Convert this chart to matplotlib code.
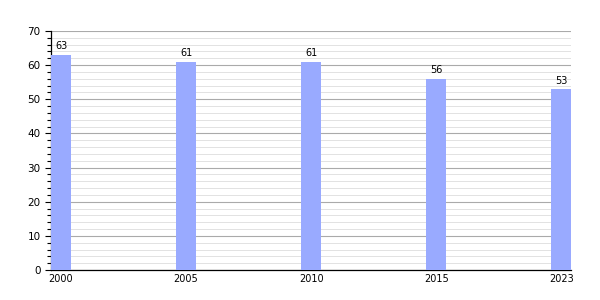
import matplotlib.pyplot as plt
from matplotlib.ticker import MultipleLocator

# Data
years = ['2000', '2005', '2010', '2015', '2023']
values = [63, 61, 61, 56, 53]

fig = plt.figure(figsize=(6, 3), dpi=100)
ax = fig.add_axes([0.085, 0.1, 0.867, 0.797])

x = range(len(years))
bars = ax.bar(x, values, width=0.16, color='#99aaff', zorder=3)
for b, v in zip(bars, values):
    ax.text(b.get_x() + b.get_width() / 2, v + 1, str(v),
            ha='center', va='bottom', fontsize=7, zorder=4)

ax.set_xlim(-0.08, len(years) - 1 + 0.08)
ax.set_ylim(0, 70)
ax.set_xticks(list(x))
ax.set_xticklabels(years, fontsize=7)
ax.yaxis.set_major_locator(MultipleLocator(10))
ax.yaxis.set_minor_locator(MultipleLocator(2))
ax.tick_params(axis='y', labelsize=7.5, length=4, width=0.8)
ax.tick_params(axis='y', which='minor', length=3, width=0.8)
ax.tick_params(axis='x', length=0, pad=3)

ax.grid(axis='y', which='major', color='#aaaaaa', linewidth=0.8, zorder=0)
ax.grid(axis='y', which='minor', color='#dddddd', linewidth=0.6, zorder=0)

for s in ['top', 'right']:
    ax.spines[s].set_visible(False)
ax.spines['left'].set_linewidth(0.9)
ax.spines['bottom'].set_linewidth(0.9)

fig.savefig('out.png', dpi=100)
